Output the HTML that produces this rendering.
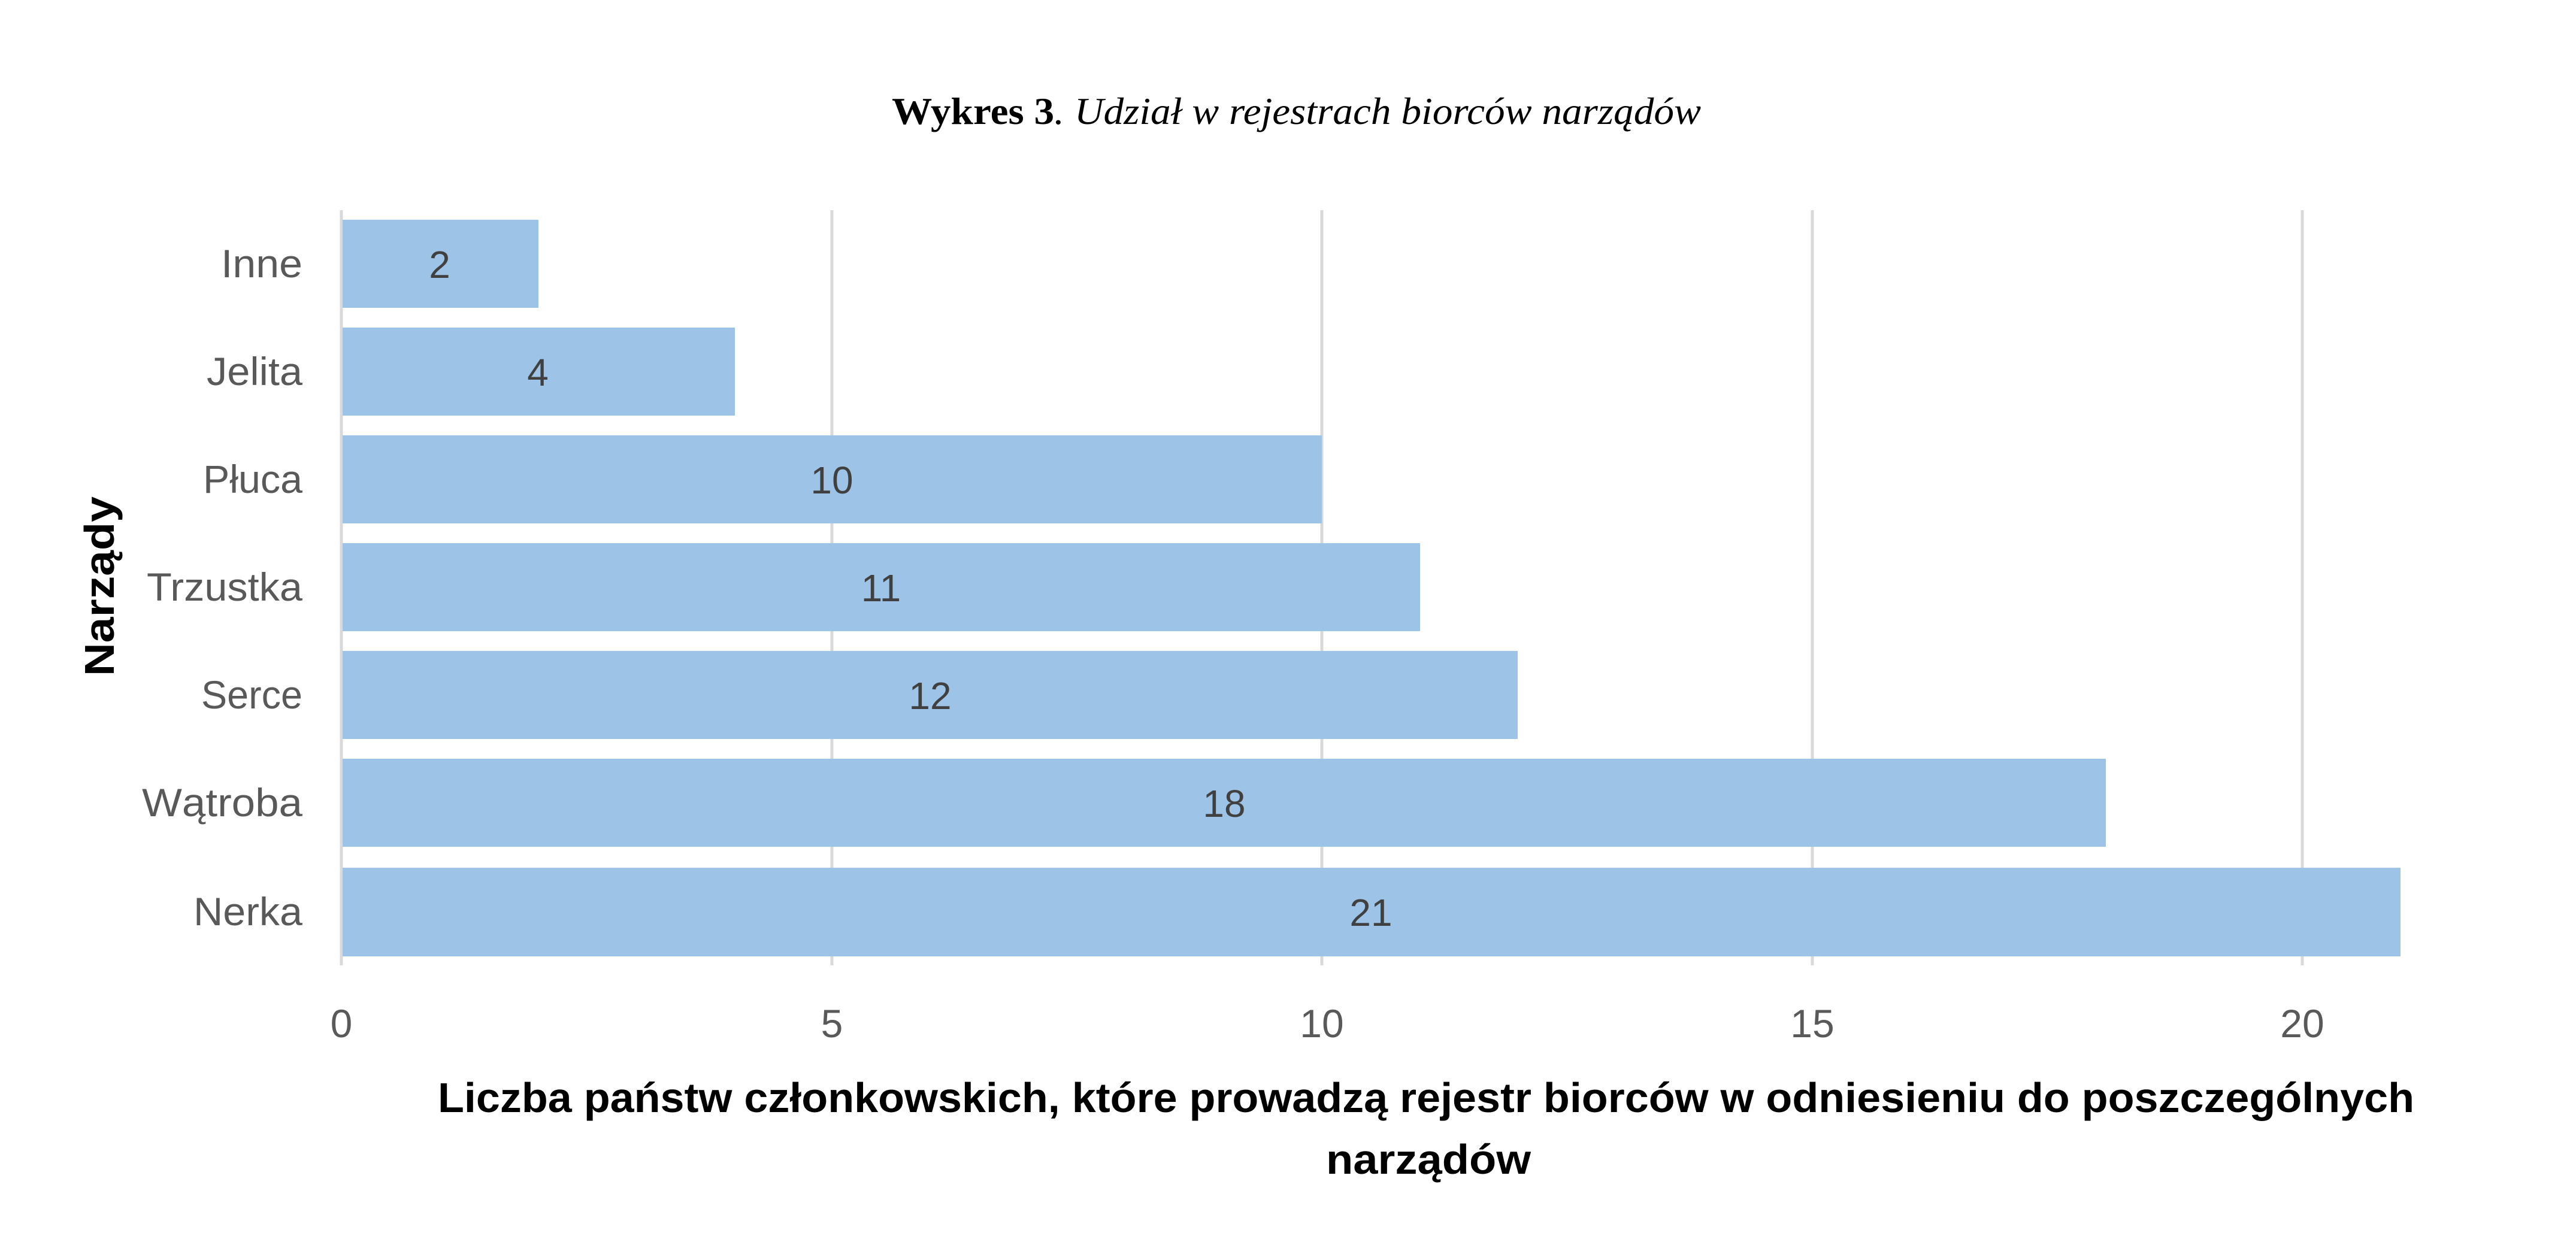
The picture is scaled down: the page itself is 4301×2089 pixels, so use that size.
<!DOCTYPE html>
<html><head><meta charset="utf-8"><style>html,body{margin:0;padding:0;background:#fff}</style></head>
<body>
<svg width="4301" height="2084" viewBox="0 0 4301 2084" xmlns="http://www.w3.org/2000/svg">
<rect width="4301" height="2084" fill="#fff"/>
<text x="1489" y="207" textLength="1351" lengthAdjust="spacingAndGlyphs" font-family="Liberation Serif, serif" font-size="64" fill="#000"><tspan font-weight="bold">Wykres 3</tspan><tspan font-style="italic">. Udział w rejestrach biorców narządów</tspan></text>
<g stroke="#d9d9d9" stroke-width="5">
<line x1="570" y1="351" x2="570" y2="1612"/>
<line x1="1389" y1="351" x2="1389" y2="1612"/>
<line x1="2207" y1="351" x2="2207" y2="1612"/>
<line x1="3026" y1="351" x2="3026" y2="1612"/>
<line x1="3844" y1="351" x2="3844" y2="1612"/>
</g>
<g fill="#9dc3e6">
<rect x="572" y="367" width="327" height="147"/>
<rect x="572" y="547" width="655" height="147"/>
<rect x="572" y="727" width="1635" height="147"/>
<rect x="572" y="907" width="1799" height="147"/>
<rect x="572" y="1087" width="1962" height="147"/>
<rect x="572" y="1267" width="2944" height="147"/>
<rect x="572" y="1449" width="3436" height="148"/>
</g>
<g font-family="Liberation Sans, sans-serif" font-size="64" fill="#404040" text-anchor="middle">
<text x="734" y="464">2</text>
<text x="898" y="644">4</text>
<text x="1389" y="824">10</text>
<text x="1471" y="1004">11</text>
<text x="1553" y="1184">12</text>
<text x="2044" y="1364">18</text>
<text x="2289" y="1546">21</text>
</g>
<g font-family="Liberation Sans, sans-serif" font-size="66" fill="#595959" text-anchor="end">
<text x="505" y="463" textLength="136" lengthAdjust="spacingAndGlyphs">Inne</text>
<text x="505" y="643" textLength="160" lengthAdjust="spacingAndGlyphs">Jelita</text>
<text x="505" y="823" textLength="166" lengthAdjust="spacingAndGlyphs">Płuca</text>
<text x="505" y="1003" textLength="260" lengthAdjust="spacingAndGlyphs">Trzustka</text>
<text x="505" y="1183" textLength="169" lengthAdjust="spacingAndGlyphs">Serce</text>
<text x="505" y="1363" textLength="268" lengthAdjust="spacingAndGlyphs">Wątroba</text>
<text x="505" y="1545" textLength="182" lengthAdjust="spacingAndGlyphs">Nerka</text>
</g>
<g font-family="Liberation Sans, sans-serif" font-size="66" fill="#595959" text-anchor="middle">
<text x="570" y="1732">0</text>
<text x="1389" y="1732">5</text>
<text x="2207" y="1732">10</text>
<text x="3026" y="1732">15</text>
<text x="3844" y="1732">20</text>
</g>
<g font-family="Liberation Sans, sans-serif" font-size="70" font-weight="bold" fill="#000">
<text x="731" y="1857" textLength="3300" lengthAdjust="spacingAndGlyphs">Liczba państw członkowskich, które prowadzą rejestr biorców w odniesieniu do poszczególnych</text>
<text x="2385" y="1960" text-anchor="middle" textLength="342" lengthAdjust="spacingAndGlyphs">narządów</text>
<text transform="translate(190,979) rotate(-90)" text-anchor="middle" textLength="300" lengthAdjust="spacingAndGlyphs">Narządy</text>
</g>
</svg>
</body></html>
